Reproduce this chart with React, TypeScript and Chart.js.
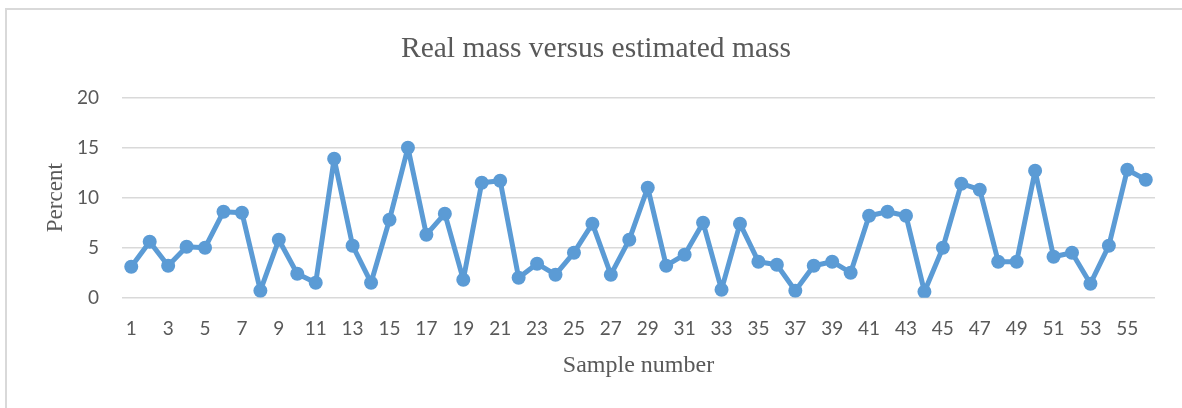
import React, { useEffect, useRef } from "react";
import { Chart, registerables } from "chart.js";

Chart.register(...registerables);

const sampleNumbers: string[] = Array.from({ length: 56 }, (_, i) => String(i + 1));

const percentValues: number[] = [
  3.1, 5.6, 3.2, 5.1, 5.0, 8.6, 8.5, 0.7, 5.8, 2.4,
  1.5, 13.9, 5.2, 1.5, 7.8, 15.0, 6.3, 8.4, 1.8, 11.5,
  11.7, 2.0, 3.4, 2.3, 4.5, 7.4, 2.3, 5.8, 11.0, 3.2,
  4.3, 7.5, 0.8, 7.4, 3.6, 3.3, 0.7, 3.2, 3.6, 2.5,
  8.2, 8.6, 8.2, 0.6, 5.0, 11.4, 10.8, 3.6, 3.6, 12.7,
  4.1, 4.5, 1.4, 5.2, 12.8, 11.8,
];

const yTicks: number[] = [0, 5, 10, 15, 20];

const chartTitle = "Real mass versus estimated mass";
const yTitle = "Percent";
const xTitle = "Sample number";

const textGray = "#595959";

const titlePlugin = {
  id: "centeredTitle",
  afterDraw(chart: any) {
    const ctx = chart.ctx;
    ctx.save();
    ctx.font = "29.5px 'Liberation Serif', serif";
    ctx.fillStyle = textGray;
    ctx.textAlign = "center";
    ctx.textBaseline = "alphabetic";
    ctx.fillText(chartTitle, 596, 57);
    ctx.restore();
  },
};

export default function App() {
  const canvasRef = useRef<HTMLCanvasElement | null>(null);

  useEffect(() => {
    const canvas = canvasRef.current;
    if (!canvas) return;
    const chart = new Chart(canvas, {
      type: "line",
      data: {
        labels: sampleNumbers,
        datasets: [
          {
            data: percentValues,
            borderColor: "#5B9BD5",
            backgroundColor: "#5B9BD5",
            borderWidth: 5,
            borderJoinStyle: "round",
            borderCapStyle: "round",
            pointRadius: 7,
            pointBorderWidth: 0,
            pointBackgroundColor: "#5B9BD5",
            tension: 0,
          },
        ],
      },
      plugins: [titlePlugin],
      options: {
        responsive: false,
        animation: false,
        layout: { padding: { left: 0, right: 27, top: 97.7, bottom: 0 } },
        plugins: {
          legend: { display: false },
          tooltip: { enabled: false },
          title: { display: false },
        },
        scales: {
          x: {
            offset: true,
            grid: { display: false, drawTicks: false },
            border: { display: false },
            ticks: {
              autoSkip: false,
              maxRotation: 0,
              minRotation: 0,
              padding: 20,
              color: textGray,
              font: { family: "Lato, 'Open Sans', sans-serif", size: 19 },
              callback: (_v: any, i: number) => (i % 2 === 0 ? sampleNumbers[i] : ""),
            },
            title: {
              display: true,
              text: xTitle,
              color: textGray,
              font: { family: "'Liberation Serif', serif", size: 24 },
              padding: { top: -8.9, bottom: 27.6 },
            },
          },
          y: {
            min: 0,
            max: 20,
            afterBuildTicks: (axis: any) => {
              axis.ticks = yTicks.map((v) => ({ value: v }));
            },
            grid: { color: "#d9d9d9", lineWidth: 1.5, drawTicks: false },
            border: { display: false },
            ticks: {
              padding: 23,
              color: textGray,
              font: { family: "Lato, 'Open Sans', sans-serif", size: 19 },
            },
            title: {
              display: true,
              text: yTitle,
              color: textGray,
              font: { family: "'Liberation Serif', serif", size: 23 },
              padding: { top: 42, bottom: -15.6 },
            },
          },
        },
      },
    });
    return () => chart.destroy();
  }, []);

  return (
    <div style={{ position: "fixed", left: 0, top: 0, width: 1182, height: 408, overflow: "hidden", background: "#fff" }}>
      <div
        style={{
          position: "absolute",
          left: 5,
          top: 8,
          width: 1300,
          height: 500,
          borderLeft: "2px solid #d9d9d9",
          borderTop: "2px solid #d9d9d9",
        }}
      />
      <canvas ref={canvasRef} width={1182} height={408} style={{ position: "absolute", left: 0, top: 0 }} />
    </div>
  );
}
